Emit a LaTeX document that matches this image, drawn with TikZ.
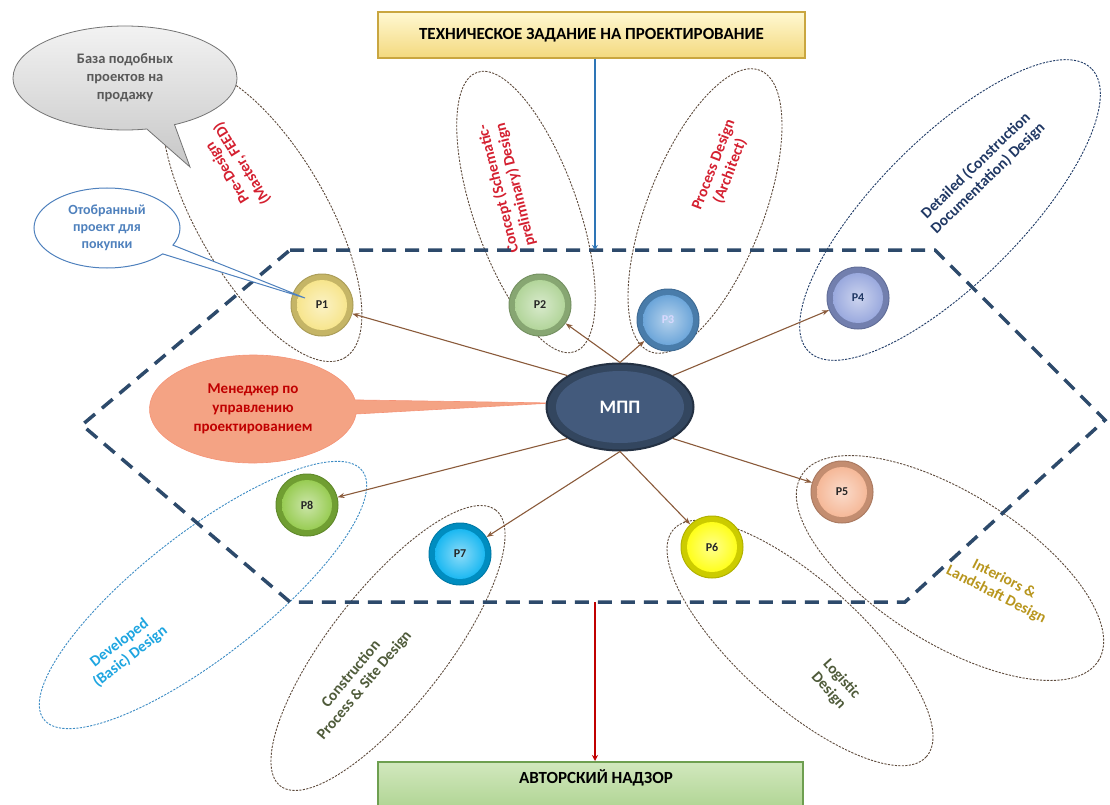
\documentclass[tikz,border=0pt]{standalone}
\usepackage{fontspec}
\setmainfont{Carlito}
\usetikzlibrary{shapes.geometric,shapes.callouts,arrows.meta}
\definecolor{lobec}{HTML}{5E4B3C}
\definecolor{devc}{HTML}{3D8CC4}
\definecolor{detc}{HTML}{1F3A66}
\definecolor{linkc}{HTML}{8A5A3A}
\definecolor{hexc}{HTML}{2D4A6B}
\definecolor{redlbl}{HTML}{D42030}
\definecolor{navylbl}{HTML}{203864}
\definecolor{goldlbl}{HTML}{B8961E}
\definecolor{olivelbl}{HTML}{4F5B3A}
\definecolor{cyanlbl}{HTML}{1EA5E0}
\definecolor{cA}{HTML}{F6E27F}
\definecolor{cB}{HTML}{A9D08E}
\definecolor{cC}{HTML}{5B9BD5}
\definecolor{cD}{HTML}{8E9FDA}
\definecolor{cE}{HTML}{F4B08C}
\definecolor{cF}{HTML}{FFFF00}
\definecolor{cG}{HTML}{00B0F0}
\definecolor{cH}{HTML}{8CC63F}
\definecolor{mppc}{HTML}{33465F}
\definecolor{mppin}{HTML}{435A7C}
\definecolor{salmon}{HTML}{F4A384}
\definecolor{mgrred}{HTML}{C00000}
\definecolor{selblue}{HTML}{4F81BD}
\definecolor{tzfillA}{HTML}{FFF8D2}
\definecolor{tzfillB}{HTML}{F3D97E}
\definecolor{tzdraw}{HTML}{C9A640}
\definecolor{anfillA}{HTML}{D2E8BE}
\definecolor{anfillB}{HTML}{A6CF87}
\definecolor{andraw}{HTML}{6E9F50}
\definecolor{tzline}{HTML}{2E75B6}
\tikzset{
  lobe/.style={ellipse, draw=#1, line width=0.9pt, dash pattern=on 2.2pt off 1.3pt, inner sep=0pt},
  lbl/.style={font=\fontsize{15.5}{17.5}\selectfont\bfseries, align=center, inner sep=0pt},
  btn/.style={circle, minimum size=62pt, inner sep=0pt, draw=#1!70!black, line width=1pt, fill=#1!80!black,
    path picture={\shade[inner color=#1!45!white, outer color=#1] (path picture bounding box.center) circle (25pt);},
    font=\fontsize{12}{13}\selectfont\bfseries, text=black!85},
  link/.style={draw=linkc, line width=1.1pt, -{Stealth[length=7pt,width=5pt]}},
  hexa/.style={draw=hexc, line width=3.5pt, dash pattern=on 14pt off 9pt},
  bubtext/.style={align=center, inner sep=0pt},
  boxtext/.style={font=\fontsize{17}{19}\selectfont\bfseries}
}
\begin{document}
\begin{tikzpicture}[x=1pt,y=-1pt]
\useasboundingbox (0,0) rectangle (1110,805);
% lobes
\node[lobe=lobec, minimum width=330pt, minimum height=130pt, rotate=-60] (e1) at (262,215) {};
\node[lobe=lobec, minimum width=296pt, minimum height=104pt, rotate=-70.7] (e2) at (526,212) {};
\node[lobe=lobec, minimum width=302pt, minimum height=116pt, rotate=68.7] (e3) at (705,211) {};
\node[lobe=detc, minimum width=400pt, minimum height=144pt, rotate=45] (e4) at (950,210) {};
\node[lobe=lobec, minimum width=350pt, minimum height=150pt, rotate=-32] (e5) at (950,568) {};
\node[lobe=lobec, minimum width=340pt, minimum height=124pt, rotate=-42] (e6) at (800,643) {};
\node[lobe=lobec, minimum width=350pt, minimum height=116pt, rotate=52] (e7) at (388,648) {};
\node[lobe=devc, minimum width=404pt, minimum height=124pt, rotate=38] (e8) at (203,595) {};
% lobe labels
\node[lbl, text=redlbl, rotate=122] (t1) at (235,168) {Pre-Design\\(Master, FEED)};
\node[lbl, text=redlbl, rotate=104] (t2) at (507,187) {Concept (Schematic-\\preliminary)  Design};
\node[lbl, text=redlbl, rotate=69] (t3) at (722,168) {Process Design\\(Architect)};
\node[lbl, text=navylbl, rotate=44] (t4) at (982,172) {Detailed (Construction\\Documentation) Design};
\node[lbl, text=goldlbl, rotate=-27] (t5) at (1000,587) {Interiors \&\\Landshaft Design};
\node[lbl, text=olivelbl, rotate=-48] (t6) at (835,685) {Logistic\\Design};
\node[lbl, text=olivelbl, rotate=50] (t7) at (358,680) {Construction\\Process \& Site Design};
\node[lbl, text=cyanlbl, rotate=38] (t8) at (125,650) {Developed\\(Basic) Design};
% dashed hexagon
\draw[hexa] (290,250) -- (935,250) -- (1105,420) -- (905,602) -- (290,602) -- (82,425) -- cycle;
\coordinate (topend) at (595,250);
\coordinate (botstart) at (595,602);
% top and bottom boxes
\node[draw=tzdraw, line width=1.5pt, top color=tzfillA, bottom color=tzfillB,
      minimum width=427pt, minimum height=46pt, boxtext] (tz) at (591.5,35)
      {ТЕХНИЧЕСКОЕ ЗАДАНИЕ НА ПРОЕКТИРОВАНИЕ};
\node[draw=andraw, line width=1.5pt, top color=anfillA, bottom color=anfillB,
      minimum width=425pt, minimum height=60pt, anchor=north] (an) at (590.5,761) {};
\node[boxtext, inner sep=0pt] (antext) at (596,778) {АВТОРСКИЙ НАДЗОР};
\draw[draw=tzline, line width=1.6pt, -{Stealth[length=5pt,width=6pt]}] (tz.south -| topend) -- (topend);
\draw[draw=mgrred, line width=1.6pt, -{Stealth[length=6pt,width=6pt]}] (botstart) -- (an.north -| botstart);
% callouts
\node[ellipse callout, callout absolute pointer={(190,167)}, minimum width=224pt, minimum height=104pt,
      top color=white!95!black, bottom color=black!22, draw=black!55, line width=0.8pt, bubtext,
      font=\fontsize{14.5}{18}\selectfont\bfseries, text=black!65] (baza) at (125,78)
      {База подобных\\проектов на\\продажу};
\node[ellipse callout, callout absolute pointer={(553,403)}, minimum width=207pt, minimum height=108pt,
      fill=salmon, draw=salmon!90!red, line width=0.6pt, bubtext, font=\fontsize{15}{19}\selectfont\bfseries, text=mgrred] (mgr) at (253,409)
      {Менеджер  по\\управлению\\проектированием};
% circles
\node[btn=cA] (p1) at (322,305) {P1};
\node[btn=cB] (p2) at (540,305) {P2};
\node[btn=cC, text=white!85!blue] (p3) at (668,320) {P3};
\node[btn=cD, text=navylbl] (p4) at (858,298) {P4};
\node[btn=cE] (p5) at (842,492) {P5};
\node[btn=cF] (p6) at (712,547) {P6};
\node[btn=cG] (p7) at (460,554) {P7};
\node[btn=cH] (p8) at (307,505) {P8};
\node[ellipse callout, callout absolute pointer={(305,298)}, minimum width=146pt, minimum height=80pt,
      fill=white, draw=selblue, line width=1pt, bubtext, font=\fontsize{14}{17}\selectfont\bfseries, text=selblue] (sel) at (107,228)
      {Отобранный\\проект для\\покупки};
% centre
\node[ellipse, minimum width=147pt, minimum height=87pt, fill=mppc, draw=mppc!70!black, line width=2pt,
      path picture={\fill[mppin] (path picture bounding box.center) ellipse [x radius=64pt, y radius=36pt];},
      text=white, font=\fontsize{19}{20}\selectfont\bfseries] (mpp) at (620,407) {МПП};
% links
\draw[link] (mpp.north west) -- (p1);
\draw[link] (mpp.north) -- (p2);
\draw[link] (mpp.north) -- (p3);
\draw[link] (mpp.north east) -- (p4);
\draw[link] (mpp.south east) -- (p5);
\draw[link] (mpp.south) -- (p6);
\draw[link] (mpp.south) -- (p7);
\draw[link] (mpp.south west) -- (p8);
\end{tikzpicture}
\end{document}
